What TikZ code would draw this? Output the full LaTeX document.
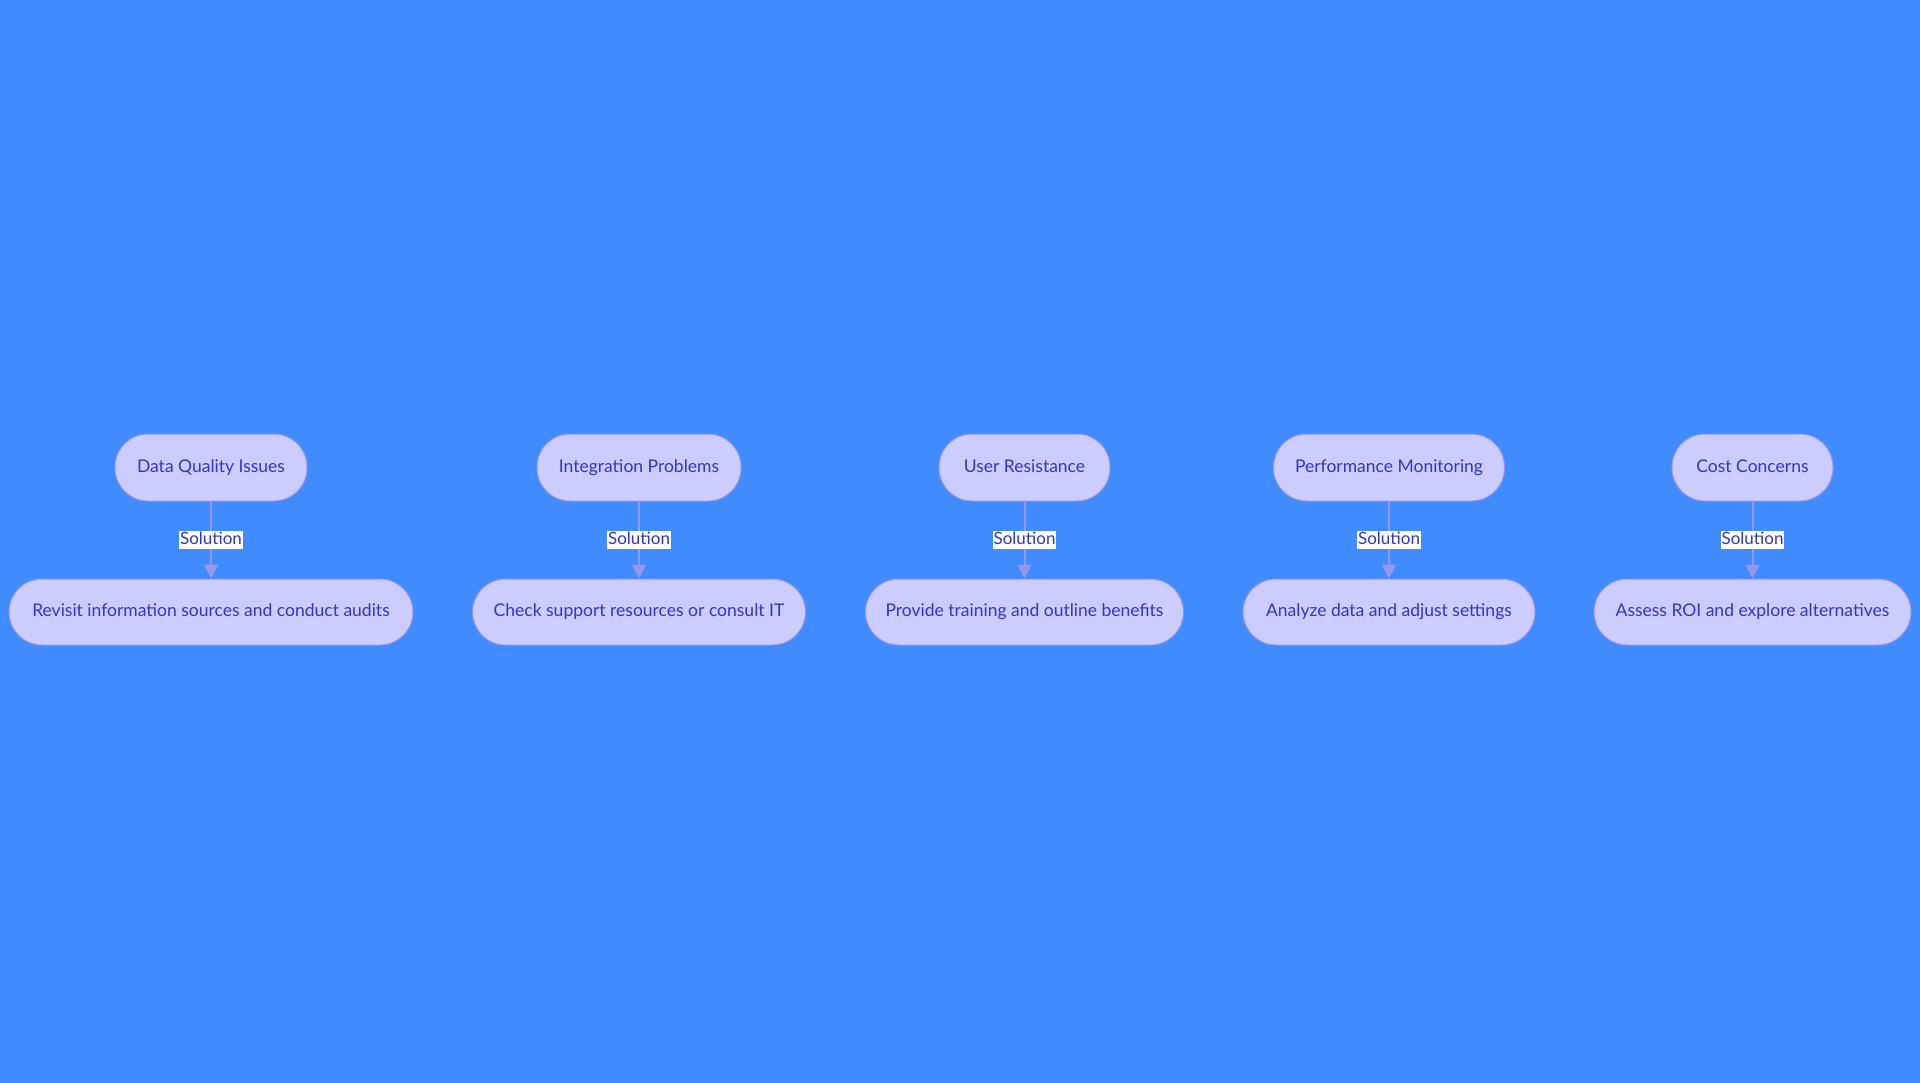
\documentclass[tikz,border=0pt]{standalone}
\usepackage{fontspec}
\setmainfont{Lato}
\usetikzlibrary{arrows.meta}
\definecolor{bg}{RGB}{64,140,255}
\definecolor{nodefill}{RGB}{204,204,255}
\definecolor{nodestroke}{RGB}{150,150,238}
\definecolor{txt}{RGB}{52,52,200}
\definecolor{edgecol}{RGB}{150,150,236}
\tikzset{
  stadium/.style={draw=nodestroke, line width=1pt, fill=nodefill, rounded corners=33pt,
    text=txt, font=\fontsize{17.5}{20}\selectfont, minimum height=67pt, inner sep=0pt,
    text height=12.5pt, text depth=3.5pt, align=center},
  link/.style={draw=edgecol, line width=2pt, -{Triangle[length=14pt,width=14pt]}},
  lbl/.style={fill=white, text=txt, font=\fontsize{17}{20}\selectfont, inner xsep=1pt, inner ysep=1pt,
    text height=12.5pt, text depth=3.5pt}
}
\begin{document}
\begin{tikzpicture}[x=1pt,y=-1pt]
\fill[bg] (0,0) rectangle (1920,1083);
\useasboundingbox (0,0) rectangle (1920,1083);
% top row
\node[stadium, minimum width=192pt] (a1) at (211,467.5) {Data Quality Issues};
\node[stadium, minimum width=204pt] (b1) at (639,467.5) {Integration Problems};
\node[stadium, minimum width=171pt] (c1) at (1024.5,467.5) {User Resistance};
\node[stadium, minimum width=231pt] (d1) at (1389,467.5) {Performance Monitoring};
\node[stadium, minimum width=161pt] (e1) at (1752.5,467.5) {Cost Concerns};
% bottom row
\node[stadium, minimum width=404pt, minimum height=66pt] (a2) at (211,612) {Revisit information sources and conduct audits};
\node[stadium, minimum width=333pt, minimum height=66pt] (b2) at (639,612) {Check support resources or consult IT};
\node[stadium, minimum width=318pt, minimum height=66pt] (c2) at (1024.5,612) {Provide training and outline benefits};
\node[stadium, minimum width=292pt, minimum height=66pt] (d2) at (1389,612) {Analyze data and adjust settings};
\node[stadium, minimum width=317pt, minimum height=66pt] (e2) at (1752.5,612) {Assess ROI and explore alternatives};
% connectors
\foreach \n in {a,b,c,d,e}{
  \draw[link] (\n1) -- node[lbl] {Solution} (\n2);
}
\end{tikzpicture}
\end{document}
